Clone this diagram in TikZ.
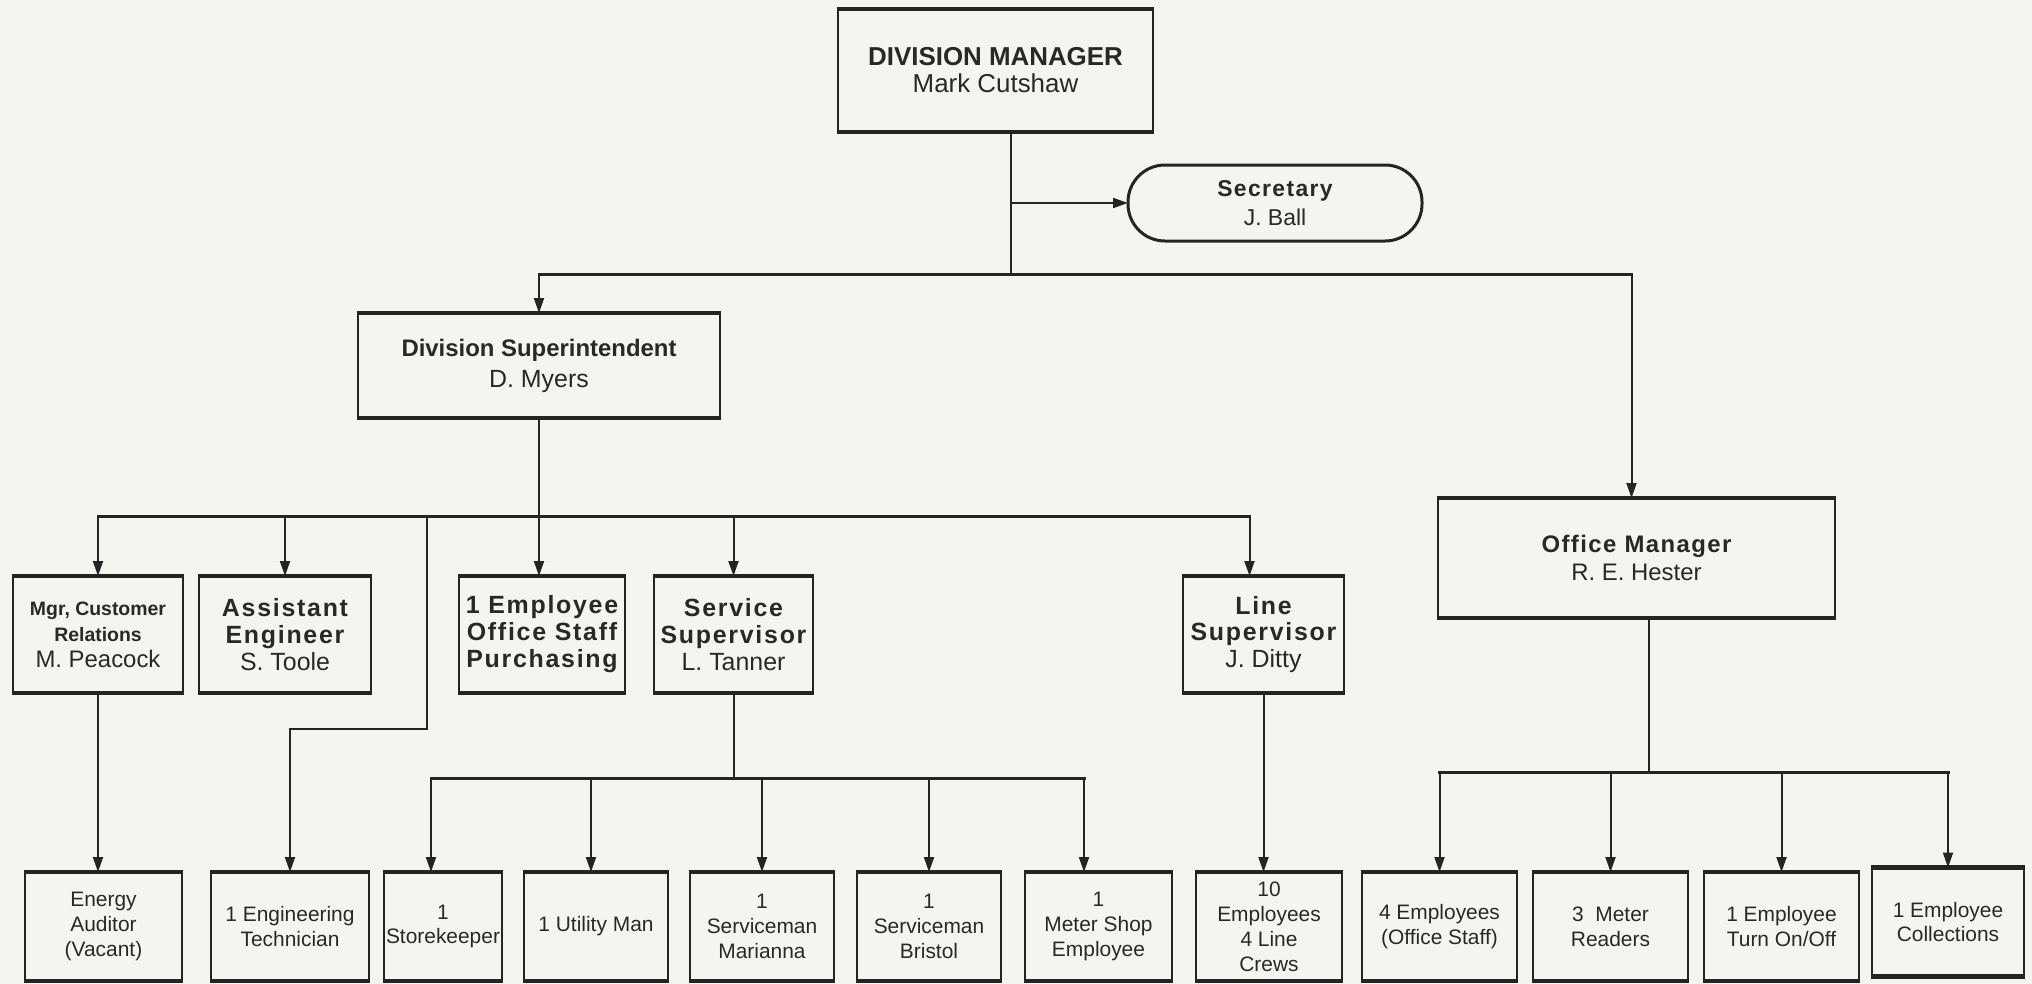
\documentclass[tikz,border=0pt]{standalone}
\usepackage{fontspec}
\setmainfont{Liberation Sans}
\newfontfamily\spaced[LetterSpace=6]{Liberation Sans}
\newfontfamily\wider[LetterSpace=7]{Liberation Sans}
\usetikzlibrary{arrows.meta}
\definecolor{paper}{RGB}{245,245,240}
\definecolor{ink}{RGB}{36,36,36}
\definecolor{txt}{RGB}{40,40,40}
\newcommand\fsz[2]{\fontsize{#1}{#2}\selectfont}
\newcommand\hd[1]{{\wider\bfseries #1}}

\begin{document}
\begin{tikzpicture}[x=1bp,y=-1bp,
  tbedge/.style={draw=ink, line width=4.5bp, shorten <=-1.25bp, shorten >=-1.25bp},
  box/.style={draw=ink, line width=2.5bp, align=center, inner sep=0pt, outer sep=0pt,
    text=txt,
    append after command={
      (\tikzlastnode.north west) edge[tbedge] (\tikzlastnode.north east)
      (\tikzlastnode.south west) edge[tbedge] (\tikzlastnode.south east)}},
  oval/.style={draw=ink, line width=3bp, rounded corners=37bp, align=center,
    inner sep=0pt, outer sep=0pt, text=txt},
  mid/.style={box, minimum height=117bp, font=\fsz{25}{27}},
  low/.style={box, minimum height=109bp, font=\fsz{21}{25}},
  wire/.style={draw=ink, line width=2bp},
  bus/.style={draw=ink, line width=3bp, line cap=rect},
  arr/.style={wire, -{Triangle[length=15bp,width=10bp]}}
]
\fill[paper] (0,0) rectangle (2032,984);
\useasboundingbox (0,0) rectangle (2032,984);

% top level
\node[box, minimum width=315bp, minimum height=123bp, font=\fsz{26}{27}] (dm) at (995.5,70.5)
  {\textbf{DIVISION MANAGER}\\Mark Cutshaw};
\node[oval, minimum width=294bp, minimum height=76bp, font=\fsz{23}{29}] (sec) at (1275,203)
  {{\spaced\bfseries Secretary}\\J. Ball};

% second level
\node[box, minimum width=362bp, minimum height=105bp, font=\fsz{25}{31}] (ds) at (539,365.5)
  {{\bfseries\fontsize{24}{31}\selectfont Division Superintendent}\\D. Myers};
\node[box, minimum width=397bp, minimum height=120bp, font=\fsz{24}{28}] (om) at (1636.5,558)
  {{\spaced\bfseries Office Manager}\\R. E. Hester};

% third level
\node[mid, minimum width=170bp, font=\fsz{19.5}{26}] (mgr) at (98,634.5)
  {\textbf{Mgr, Customer}\\\textbf{Relations}\\{\fontsize{24}{26}\selectfont M. Peacock}};
\node[mid, minimum width=172bp] (ae) at (285,634.5)
  {\hd{Assistant}\\\hd{Engineer}\\S. Toole};
\node[mid, minimum width=166bp] (emp1) at (542,634.5)
  {\hd{1 Employee}\\\hd{Office Staff}\\\hd{Purchasing}};
\node[mid, minimum width=159bp] (ss) at (733.5,634.5)
  {\hd{Service}\\\hd{Supervisor}\\L. Tanner};
\node[mid, minimum width=161bp] (ls) at (1263.5,634.5)
  {\hd{Line}\\\hd{Supervisor}\\J. Ditty};

% bottom level
\node[low, minimum width=157bp] (ea) at (103.5,926.5) {Energy\\Auditor\\(Vacant)};
\node[low, minimum width=158bp] (et) at (290,926.5) {1 Engineering\\Technician};
\node[low, minimum width=118bp] (sk) at (443,926.5) {1\\Storekeeper};
\node[low, minimum width=144bp] (um) at (596,926.5) {1 Utility Man};
\node[low, minimum width=144bp] (ma) at (762,926.5) {1\\Serviceman\\Marianna};
\node[low, minimum width=144bp] (br) at (929,926.5) {1\\Serviceman\\Bristol};
\node[low, minimum width=147bp] (ms) at (1098.5,926.5) {1\\Meter Shop\\Employee};
\node[low, minimum width=146bp] (lc) at (1269,926.5) {10\\Employees\\4 Line\\Crews};
\node[low, minimum width=155bp] (e4) at (1439.5,926.5) {4 Employees\\(Office Staff)};
\node[low, minimum width=155bp] (mr) at (1610.5,926.5) {3~~Meter\\Readers};
\node[low, minimum width=155bp] (tof) at (1781.5,926.5) {1 Employee\\Turn On/Off};
\node[low, minimum width=152bp] (co) at (1948,922) {1 Employee\\Collections};

% manager to secretary and second level
\coordinate (dmx) at ([xshift=15.5bp]dm.south);
\coordinate (b1) at (0,274);
\coordinate (omin) at ([xshift=-5bp]om.north);
\draw[wire] (dmx) -- (dmx |- b1);
\draw[arr] (dmx |- sec.west) -- (sec.west);
\draw[bus] (ds.north |- b1) -- (omin |- b1);
\draw[arr] (ds.north |- b1) -- (ds.north);
\draw[arr] (omin |- b1) -- (omin);

% superintendent to third level
\coordinate (b2) at (0,516);
\coordinate (lsin) at ([xshift=-14bp]ls.north);
\coordinate (etdrop) at (427,516);
\coordinate (jog) at (427,729);
\draw[arr] (ds.south) -- (ds.south |- emp1.north);
\draw[bus] (mgr.north |- b2) -- (lsin |- b2);
\draw[arr] (mgr.north |- b2) -- (mgr.north);
\draw[arr] (ae.north |- b2) -- (ae.north);
\draw[arr] (ss.north |- b2) -- (ss.north);
\draw[arr] (lsin |- b2) -- (lsin);
\draw[arr] (etdrop) -- (jog) -| (et.north);

% direct reports below
\draw[arr] (mgr.south) -- (mgr.south |- ea.north);
\draw[arr] (ls.south) -- (ls.south |- lc.north);

% service supervisor group
\coordinate (b3) at (0,778);
\coordinate (skin) at ([xshift=-12bp]sk.north);
\coordinate (umin) at ([xshift=-5bp]um.north);
\coordinate (msin) at ([xshift=-14.5bp]ms.north);
\draw[wire] (ss.south) -- (ss.south |- b3);
\draw[bus] (skin |- b3) -- (msin |- b3);
\draw[arr] (skin |- b3) -- (skin);
\draw[arr] (umin |- b3) -- (umin);
\draw[arr] (ma.north |- b3) -- (ma.north);
\draw[arr] (br.north |- b3) -- (br.north);
\draw[arr] (msin |- b3) -- (msin);

% office manager group
\coordinate (b4) at (0,772);
\coordinate (omout) at ([xshift=12.5bp]om.south);
\draw[wire] (omout) -- (omout |- b4);
\draw[bus] (e4.north |- b4) -- (co.north |- b4);
\draw[arr] (e4.north |- b4) -- (e4.north);
\draw[arr] (mr.north |- b4) -- (mr.north);
\draw[arr] (tof.north |- b4) -- (tof.north);
\draw[arr] (co.north |- b4) -- (co.north);
\end{tikzpicture}
\end{document}
